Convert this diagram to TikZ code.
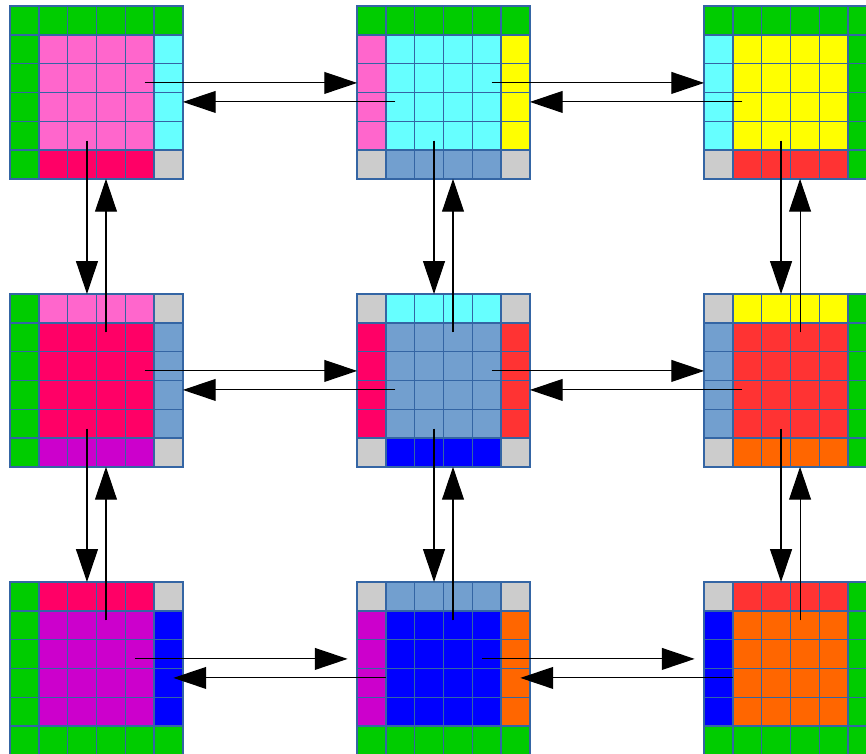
\documentclass[tikz,border=0pt]{standalone}
\usepackage{tikz}
\usetikzlibrary{arrows.meta, calc}

\definecolor{cgreen}{RGB}{0,204,0}
\definecolor{cpink}{RGB}{255,102,204}
\definecolor{ccrimson}{RGB}{255,0,102}
\definecolor{ccyan}{RGB}{102,255,255}
\definecolor{cyellow}{RGB}{255,255,0}
\definecolor{cred}{RGB}{255,51,51}
\definecolor{csteel}{RGB}{114,159,207}
\definecolor{cblue}{RGB}{0,0,255}
\definecolor{cpurple}{RGB}{204,0,204}
\definecolor{corange}{RGB}{255,102,0}
\definecolor{cgray}{RGB}{204,204,204}
\definecolor{cellline}{RGB}{52,101,164}

\tikzset{
  subdom/.style={draw=cellline, line width=0.7pt, minimum width=3cm,
                 minimum height=3cm, inner sep=0pt, outer sep=0pt,
                 anchor=north west},
  cellgrid/.style={draw=cellline, line width=0.7pt},
  flux/.style={-{Triangle[length=0.57cm, width=0.38cm]}, line width=0.55pt}
}

% halo strip: full length on the boundary, middle cells otherwise
\def\bndcol{cgreen}
\newcommand{\subhalo}[3]{\def\halocol{#1}%
  \ifx\halocol\bndcol\fill[#1] #3;\else\fill[#1] #2;\fi}

% name, top-left corner, inner, top, right, bottom, left
\newcommand{\subdomain}[7]{%
  \begin{scope}[shift={(#2)}]
    \fill[cgray] (0,0) rectangle (6,-6);
    \subhalo{#4}{(1,0) rectangle (5,-1)}{(0,0) rectangle (6,-1)}
    \subhalo{#5}{(5,-1) rectangle (6,-5)}{(5,0) rectangle (6,-6)}
    \subhalo{#6}{(1,-5) rectangle (5,-6)}{(0,-5) rectangle (6,-6)}
    \subhalo{#7}{(0,-1) rectangle (1,-5)}{(0,0) rectangle (1,-6)}
    \fill[#3] (1,-1) rectangle (5,-5);
    \foreach \k in {0,...,6}{
      \draw[cellgrid] (\k,0) -- (\k,-6);
      \draw[cellgrid] (0,-\k) -- (6,-\k);
    }
  \end{scope}
  \node[subdom] (#1) at (#2) {};
}

\begin{document}
\begin{tikzpicture}[x=0.5cm, y=0.5cm]
\useasboundingbox (0,0) rectangle (30.07,-26.18);
\clip (0,0) rectangle (30.07,-26.18);

\subdomain{dom00}{0.35,-0.21}{cpink}{cgreen}{ccyan}{ccrimson}{cgreen}
\subdomain{dom01}{12.40,-0.21}{ccyan}{cgreen}{cyellow}{csteel}{cpink}
\subdomain{dom02}{24.45,-0.21}{cyellow}{cgreen}{cgreen}{cred}{ccyan}
\subdomain{dom10}{0.35,-10.21}{ccrimson}{cpink}{csteel}{cpurple}{cgreen}
\subdomain{dom11}{12.40,-10.21}{csteel}{ccyan}{cred}{cblue}{ccrimson}
\subdomain{dom12}{24.45,-10.21}{cred}{cyellow}{cgreen}{corange}{csteel}
\subdomain{dom20}{0.35,-20.21}{cpurple}{ccrimson}{cblue}{cgreen}{cgreen}
\subdomain{dom21}{12.40,-20.21}{cblue}{csteel}{corange}{cgreen}{cpurple}
\subdomain{dom22}{24.45,-20.21}{corange}{cred}{cgreen}{cgreen}{cblue}

% left-right exchange
\foreach \r in {0,1}{
  \foreach \c/\n in {0/1,1/2}{
    \draw[flux] ($(dom\r\c.north west)+(4.67,-2.67)$) -- ($(dom\r\n.north west)+(0,-2.67)$);
    \draw[flux] ($(dom\r\n.north west)+(1.33,-3.33)$) -- ($(dom\r\c.north west)+(6,-3.33)$);
  }
}
\foreach \c/\n in {0/1,1/2}{
  \draw[flux] ($(dom2\c.north west)+(4.33,-2.67)$) -- ($(dom2\n.north west)+(-0.33,-2.67)$);
  \draw[flux] ($(dom2\n.north west)+(1,-3.33)$) -- ($(dom2\c.north west)+(5.67,-3.33)$);
}

% up-down exchange
\foreach \r/\s in {0/1,1/2}{
  \foreach \c in {0,1,2}{
    \draw[flux] ($(dom\r\c.north west)+(2.67,-4.67)$) -- ($(dom\s\c.north west)+(2.67,0)$);
    \draw[flux] ($(dom\s\c.north west)+(3.33,-1.33)$) -- ($(dom\r\c.north west)+(3.33,-6)$);
  }
}
\end{tikzpicture}
\end{document}
